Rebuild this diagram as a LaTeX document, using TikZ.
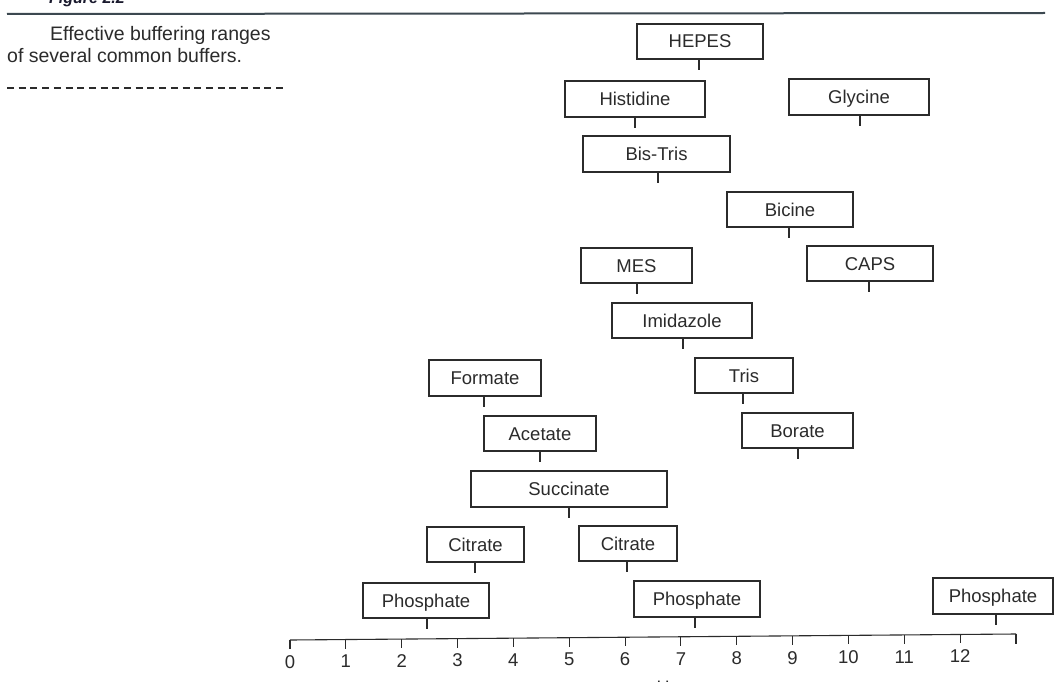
\documentclass[tikz,border=0pt]{standalone}
\usepackage{fontspec}
\setmainfont{Liberation Sans}
\usetikzlibrary{calc}
\definecolor{ink}{HTML}{2B2B2B}
\definecolor{rule}{HTML}{3C4850}
\definecolor{figblue}{HTML}{1A1A2E}
\tikzset{
  buf/.style={draw=ink, line width=1.1pt, fill=white, inner sep=0pt, text=ink,
    text height=13pt, text depth=0pt,
    font=\fontsize{18.5}{20}\selectfont},
  stubline/.style={draw=ink, line width=1.1pt},
  axisline/.style={draw=ink, line width=1.1pt},
  ticklabel/.style={text=ink, font=\fontsize{18.5}{20}\selectfont, inner sep=0pt},
}
% #1 name, #2 x, #3 y, #4 width, #5 height, #6 stub offset, #7 text
\newcommand\bufbox[7]{%
  \node[buf, minimum width=#4pt, minimum height=#5pt] (#1) at (#2,#3) {#7};
  \draw[stubline] ([xshift=#6pt]#1.south) -- ++(0,10);
}
\begin{document}
\begin{tikzpicture}[x=1pt,y=-1pt]
\useasboundingbox (0,0) rectangle (1057,682);
\clip (0,0) rectangle (1057,682);
\fill[white] (0,0) rectangle (1057,682);

% header
\node[anchor=base west, inner sep=0pt, text=figblue,
  font=\fontsize{16}{18}\selectfont\bfseries\itshape] (figlabel) at (49,4) {Figure 2.2};
\coordinate (ruleL) at (7,14);
\coordinate (ruleR) at (1045,13);
\draw[rule, line width=2pt] (ruleL) -- (ruleR);

% caption (anchor base = last line's baseline)
\node[anchor=base west, inner sep=0pt, align=left, text=ink,
  font=\fontsize{19.5}{22}\selectfont] (caption) at (7,63)
  {\hspace*{43pt}Effective buffering ranges\\of several common buffers.};
\coordinate (dashL) at (7,88);
\coordinate (dashR) at (287,88);
\draw[ink, line width=1.6pt, dash pattern=on 7pt off 4.7pt] (dashL) -- (dashR);

% buffers
\bufbox{hepes}{700}{41.5}{126}{35}{-1}{HEPES}
\bufbox{histidine}{635}{99}{140}{36}{0}{Histidine}
\bufbox{glycine}{859}{97}{140}{36}{1}{Glycine}
\bufbox{bistris}{656.5}{154}{147}{36}{1.5}{Bis-Tris}
\bufbox{bicine}{790}{209.5}{126}{35}{-1}{Bicine}
\bufbox{mes}{636.5}{265.5}{111}{35}{0.5}{MES}
\bufbox{caps}{870}{263.5}{126}{35}{-1}{CAPS}
\bufbox{imidazole}{682}{320.5}{140}{35}{1}{Imidazole}
\bufbox{formate}{485}{378}{112}{36}{-1}{Formate}
\bufbox{tris}{744}{375.5}{98}{35}{-1}{Tris}
\bufbox{acetate}{540}{433.5}{112}{35}{0}{Acetate}
\bufbox{borate}{797.5}{430.5}{111}{35}{0.5}{Borate}
\bufbox{succinate}{569}{489}{196}{36}{0}{Succinate}
\bufbox{citrateL}{475.5}{544.5}{97}{35}{-0.5}{Citrate}
\bufbox{citrateR}{628}{543.5}{98}{35}{-1}{Citrate}
\bufbox{phosL}{426}{600.5}{126}{35}{1}{Phosphate}
\bufbox{phosM}{697}{599}{126}{36}{-2}{Phosphate}
\bufbox{phosR}{993}{596}{120}{36}{3}{Phosphate}

% axis
\coordinate (a0) at (290,640);
\coordinate (aend) at (1016,634);
\draw[axisline] (a0) -- (aend);
\foreach \i in {0,...,12} {
  \coordinate (t\i) at ($(a0)!\i/13!(aend)$);
  \draw[axisline] (t\i) -- ++(0,9);
  \node[ticklabel] (l\i) at ($(t\i)+(0,22)$) {\i};
}
\draw[axisline] (aend) -- ++(0,10);
\node[anchor=base, inner sep=0pt, text=ink, font=\fontsize{18}{20}\selectfont] (phlabel) at (658,693) {pH};
\end{tikzpicture}
\end{document}
